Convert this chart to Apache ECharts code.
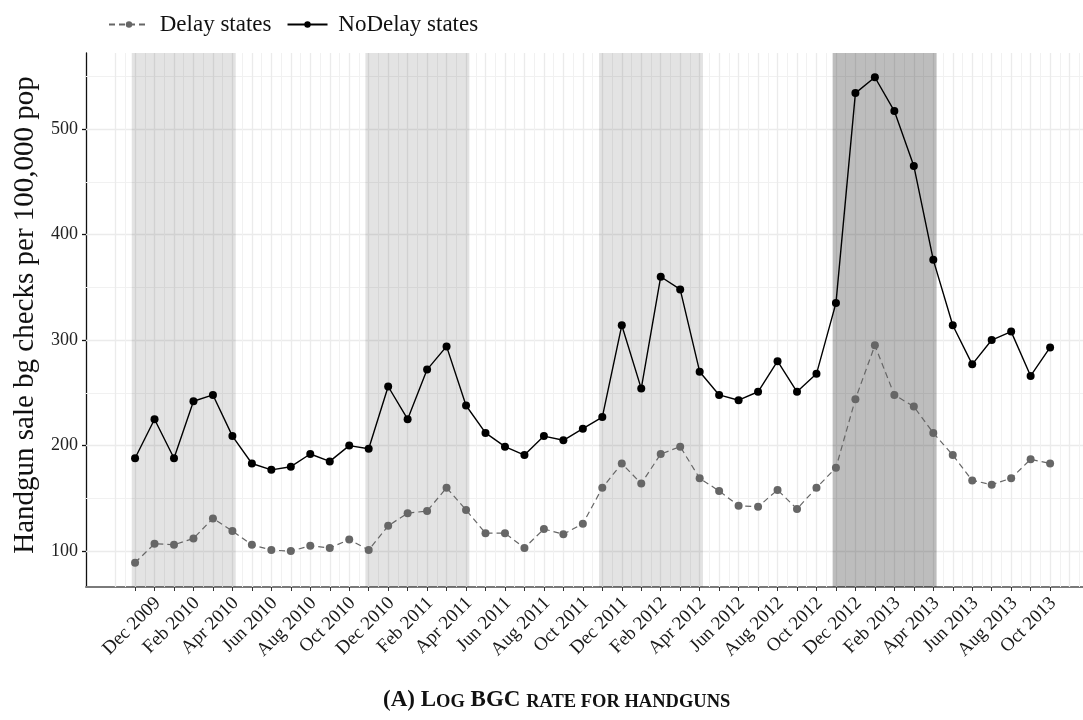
<!DOCTYPE html>
<html>
<head>
<meta charset="utf-8">
<script src="https://cdn.jsdelivr.net/npm/echarts@6/dist/echarts.min.js"></script>
<style>
  html, body { margin: 0; padding: 0; background: #ffffff; }
  #chart { width: 1083px; height: 720px; }
</style>
</head>
<body>
<div id="chart"></div>
<script>
// ---- Data ----
const months = [
  'Nov 2009','Dec 2009',
  'Jan 2010','Feb 2010','Mar 2010','Apr 2010','May 2010','Jun 2010','Jul 2010','Aug 2010','Sep 2010','Oct 2010','Nov 2010','Dec 2010',
  'Jan 2011','Feb 2011','Mar 2011','Apr 2011','May 2011','Jun 2011','Jul 2011','Aug 2011','Sep 2011','Oct 2011','Nov 2011','Dec 2011',
  'Jan 2012','Feb 2012','Mar 2012','Apr 2012','May 2012','Jun 2012','Jul 2012','Aug 2012','Sep 2012','Oct 2012','Nov 2012','Dec 2012',
  'Jan 2013','Feb 2013','Mar 2013','Apr 2013','May 2013','Jun 2013','Jul 2013','Aug 2013','Sep 2013','Oct 2013'
];
const delayStates = [
  89, 107,
  106, 112, 131, 119, 106, 101, 100, 105, 103, 111, 101, 124,
  136, 138, 160, 139, 117, 117, 103, 121, 116, 126, 160, 183,
  164, 192, 199, 169, 157, 143, 142, 158, 140, 160, 179, 244,
  295, 248, 237, 212, 191, 167, 163, 169, 187, 183
];
const noDelayStates = [
  188, 225,
  188, 242, 248, 209, 183, 177, 180, 192, 185, 200, 197, 256,
  225, 272, 294, 238, 212, 199, 191, 209, 205, 216, 227, 314,
  254, 360, 348, 270, 248, 243, 251, 280, 251, 268, 335, 534,
  549, 517, 465, 376, 314, 277, 300, 308, 266, 293
];
const yTicks = [100, 200, 300, 400, 500];
const yMinorTicks = [150, 250, 350, 450, 550];
const shadeStart = ['Nov 2009', 'Nov 2010', 'Nov 2011', 'Nov 2012'];
const shadeEnd   = ['Apr 2010', 'Apr 2011', 'Apr 2012', 'Apr 2013'];
const shadeDark  = [false, false, false, true];
const seriesNames = ['Delay states', 'NoDelay states'];
const yTitle = 'Handgun sale bg checks per 100,000 pop';

// ---- Build ----
const serif = "'Liberation Serif', 'DejaVu Serif', serif";
const idx = m => months.indexOf(m);
const toPairs = arr => arr.map((v, i) => [i, v]);
const allTicks = months.map((m, i) => i);
const labelTicks = allTicks.filter(i => i % 2 === 1);

const gridLines = [];
yTicks.forEach(v => gridLines.push({ yAxis: v, lineStyle: { color: '#ebebeb', width: 1.3, type: 'solid' } }));
yMinorTicks.forEach(v => gridLines.push({ yAxis: v, lineStyle: { color: '#f1f1f1', width: 1, type: 'solid' } }));
for (let i = -1; i <= 48; i++) {
  gridLines.push({ xAxis: i, lineStyle: { color: '#ebebeb', width: 1.3, type: 'solid' } });
  gridLines.push({ xAxis: i + 0.5, lineStyle: { color: '#f1f1f1', width: 1, type: 'solid' } });
}

const areas = shadeStart.map((s, k) => [
  { xAxis: idx(s) - 0.17, itemStyle: { color: shadeDark[k] ? 'rgba(0,0,0,0.26)' : 'rgba(0,0,0,0.11)' } },
  { xAxis: idx(shadeEnd[k]) + 0.17 }
]);

const chart = echarts.init(document.getElementById('chart'), null, { renderer: 'canvas' });
chart.setOption({
  animation: false,
  backgroundColor: '#ffffff',
  textStyle: { fontFamily: serif },
  title: {
    left: 383,
    top: 689,
    padding: 0,
    text: '{a|(A) L}{b|OG}{a| BGC }{b|RATE FOR HANDGUNS}',
    textStyle: {
      rich: {
        a: { fontFamily: serif, fontSize: 23, color: '#111', verticalAlign: 'bottom' },
        b: { fontFamily: serif, fontSize: 18.5, color: '#111', verticalAlign: 'bottom' }
      }
    }
  },
  legend: {
    left: 103,
    top: 8,
    itemWidth: 40,
    itemHeight: 8,
    itemGap: 15,
    data: seriesNames,
    formatter: name => ' ' + name,
    textStyle: { fontFamily: serif, fontSize: 23, color: '#111' }
  },
  grid: { left: 86, right: 0, top: 53, bottom: 133, containLabel: false },
  xAxis: {
    type: 'value',
    min: -2.52,
    max: 48.69,
    splitLine: { show: false },
    axisLine: { show: true, onZero: false, lineStyle: { color: '#7a7a7a', width: 2 } },
    axisTick: { show: true, customValues: allTicks, length: 4, lineStyle: { color: '#333', width: 1 } },
    axisLabel: {
      customValues: labelTicks,
      showMinLabel: true,
      showMaxLabel: true,
      hideOverlap: false,
      formatter: v => months[Math.round(v)],
      rotate: 45,
      align: 'right',
      verticalAlign: 'top',
      lineHeight: 9,
      margin: 10,
      fontSize: 19,
      fontFamily: serif,
      color: '#1a1a1a'
    }
  },
  yAxis: {
    type: 'value',
    min: 66,
    max: 572,
    name: yTitle,
    nameLocation: 'middle',
    nameGap: 46,
    nameTextStyle: { fontFamily: serif, fontSize: 29, color: '#111', padding: [0, 0, 0, 10] },
    splitLine: { show: false },
    axisLine: { show: true, onZero: false, lineStyle: { color: '#111', width: 1.3 } },
    axisTick: { show: true, customValues: yTicks, length: 4, lineStyle: { color: '#111', width: 1.3 } },
    axisLabel: {
      customValues: yTicks,
      showMinLabel: true,
      showMaxLabel: true,
      margin: 8,
      fontSize: 18,
      fontFamily: serif,
      color: '#222'
    }
  },
  series: [
    {
      name: '_grid', type: 'line', data: [], z: 1, silent: true,
      markLine: { z: 1, silent: true, symbol: ['none', 'none'], label: { show: false }, animation: false, data: gridLines }
    },
    {
      name: '_shade', type: 'line', data: [], z: 2, silent: true,
      markArea: { z: 2, silent: true, animation: false, data: areas }
    },
    {
      name: seriesNames[0], type: 'line', z: 3,
      data: toPairs(delayStates),
      symbol: 'circle', symbolSize: 8,
      itemStyle: { color: '#666666', borderWidth: 0, borderColor: '#666666' },
      lineStyle: { color: '#666666', width: 1.2, type: [6, 4] }
    },
    {
      name: seriesNames[1], type: 'line', z: 4,
      data: toPairs(noDelayStates),
      symbol: 'circle', symbolSize: 8,
      itemStyle: { color: '#000000', borderWidth: 0, borderColor: '#000000' },
      lineStyle: { color: '#000000', width: 1.4 }
    }
  ]
});
</script>
</body>
</html>
